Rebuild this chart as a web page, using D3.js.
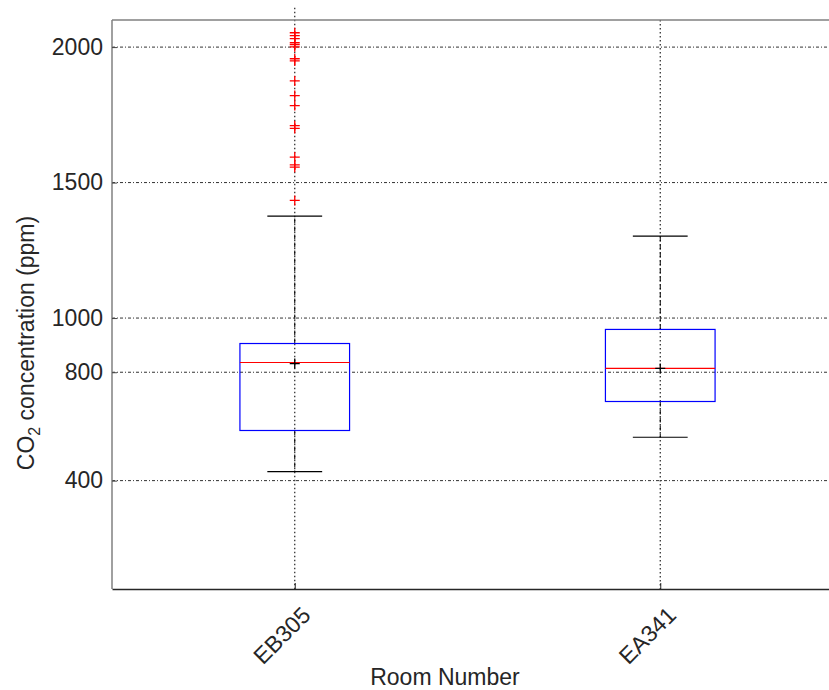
<!DOCTYPE html>
<html>
<head>
<meta charset="utf-8">
<script src="https://cdn.jsdelivr.net/npm/d3@7"></script>
<style>
  body { margin: 0; background: #fff; }
  text { font-family: "Liberation Sans", Arial, sans-serif; fill: #262626; }
</style>
</head>
<body>
<svg id="chart" width="829" height="690"></svg>
<script>
// rooms and box statistics (ppm)
var rooms = ["EB305", "EA341"];
var q1 = [585, 692];
var medians = [836, 814];
var q3 = [906, 958];
var whiskerLow = [433, 560];
var whiskerHigh = [1376, 1302];
var means = [832, 814];
var lineTop = [2145, 2100];
var outliers = [
    [2053, 2042, 2031, 2016, 2009, 2001, 1957, 1949, 1875, 1821, 1784, 1710, 1700, 1594, 1565, 1557, 1434],
    []
];
var yTicks = [400, 800, 1000, 1500, 2000];

var svg = d3.select("#chart");

var x = d3.scaleLinear().domain([0.5, 2.5]).range([112, 843]);
var y = d3.scaleLinear().domain([0, 2100]).range([589, 20]);

var boxW = 0.3, capW = 0.15;

//horizontal grid
svg.append("g")
    .selectAll("line")
    .data(yTicks)
    .enter()
    .append("line")
        .attr("x1", x(0.5)).attr("x2", x(2.5))
        .attr("y1", d => y(d)).attr("y2", d => y(d))
        .style("stroke", "#333")
        .style("stroke-width", 1)
        .style("stroke-dasharray", "3,2,1,2");

//vertical grid through each box
svg.append("g")
    .selectAll("line")
    .data(rooms)
    .enter()
    .append("line")
        .attr("x1", (d, i) => x(i + 1)).attr("x2", (d, i) => x(i + 1))
        .attr("y1", (d, i) => y(lineTop[i])).attr("y2", y(0))
        .style("stroke", "#222")
        .style("stroke-width", 1.2)
        .style("stroke-dasharray", "1.5,2.5");

//one group per room
var groups = svg.append("g")
    .selectAll("g.room")
    .data(rooms)
    .enter()
    .append("g")
        .attr("class", "room");

//whisker lines (dashed)
groups.append("line")
    .attr("x1", (d, i) => x(i + 1)).attr("x2", (d, i) => x(i + 1))
    .attr("y1", (d, i) => y(q3[i])).attr("y2", (d, i) => y(whiskerHigh[i]))
    .style("stroke", "#000").style("stroke-dasharray", "5,3");
groups.append("line")
    .attr("x1", (d, i) => x(i + 1)).attr("x2", (d, i) => x(i + 1))
    .attr("y1", (d, i) => y(q1[i])).attr("y2", (d, i) => y(whiskerLow[i]))
    .style("stroke", "#000").style("stroke-dasharray", "5,3");

//caps
groups.append("line")
    .attr("x1", (d, i) => x(i + 1 - capW / 2)).attr("x2", (d, i) => x(i + 1 + capW / 2))
    .attr("y1", (d, i) => y(whiskerHigh[i])).attr("y2", (d, i) => y(whiskerHigh[i]))
    .style("stroke", "#000").style("stroke-width", 1.2);
groups.append("line")
    .attr("x1", (d, i) => x(i + 1 - capW / 2)).attr("x2", (d, i) => x(i + 1 + capW / 2))
    .attr("y1", (d, i) => y(whiskerLow[i])).attr("y2", (d, i) => y(whiskerLow[i]))
    .style("stroke", "#000").style("stroke-width", 1.2);

//boxes
groups.append("rect")
    .attr("x", (d, i) => x(i + 1 - boxW / 2))
    .attr("width", x(1 + boxW / 2) - x(1 - boxW / 2))
    .attr("y", (d, i) => y(q3[i]))
    .attr("height", (d, i) => y(q1[i]) - y(q3[i]))
    .style("fill", "none")
    .style("stroke", "#0000ff")
    .style("stroke-width", 1.2);

//medians
groups.append("line")
    .attr("x1", (d, i) => x(i + 1 - boxW / 2)).attr("x2", (d, i) => x(i + 1 + boxW / 2))
    .attr("y1", (d, i) => y(medians[i])).attr("y2", (d, i) => y(medians[i]))
    .style("stroke", "#ff0000").style("stroke-width", 1.2);

//plus marker helper
function plus(sel, cx, cy, color) {
    sel.append("path")
        .attr("d", `M${cx - 5},${cy}H${cx + 5}M${cx},${cy - 5}V${cy + 5}`)
        .style("stroke", color)
        .style("stroke-width", 1.3)
        .style("fill", "none");
}

//means
rooms.forEach((r, i) => plus(svg, x(i + 1), y(means[i]), "#000"));

//outliers
rooms.forEach((r, i) => {
    outliers[i].forEach(v => plus(svg, x(i + 1), y(v), "#ff0000"));
});

//frame
svg.append("line").attr("x1", 112).attr("x2", 843).attr("y1", 20).attr("y2", 20)
    .style("stroke", "#808080").style("stroke-width", 1.5);
svg.append("line").attr("x1", 112).attr("x2", 112).attr("y1", 20).attr("y2", 589)
    .style("stroke", "#808080").style("stroke-width", 1.5);

//y axis
var yAxis = d3.axisLeft(y).tickValues(yTicks).tickFormat(d3.format("d"))
    .tickSizeInner(-5).tickSizeOuter(0).tickPadding(9);
var yG = svg.append("g").attr("transform", "translate(112,0)").call(yAxis);
yG.select(".domain").remove();
yG.selectAll("line").style("stroke", "#444");
yG.selectAll("text")
    .style("font-size", "23px")
    .style("font-family", "Liberation Sans, Arial, sans-serif")
    .attr("fill", "#262626");

//x axis
var xAxis = d3.axisBottom(x).tickValues([1, 2]).tickFormat((d, i) => rooms[i])
    .tickSizeInner(-6).tickSizeOuter(0);
var xG = svg.append("g").attr("transform", "translate(0,589)").call(xAxis);
xG.select(".domain").style("stroke", "#262626").style("stroke-width", 1.5);
xG.selectAll("line").style("stroke", "#262626");
xG.selectAll("text")
    .style("font-size", "23px")
    .style("font-family", "Liberation Sans, Arial, sans-serif")
    .attr("fill", "#262626")
    .attr("text-anchor", "end")
    .attr("x", 0).attr("y", 0).attr("dy", "0.35em")
    .attr("transform", "translate(11,22) rotate(-45)");

//axis titles
svg.append("text")
    .attr("x", 445).attr("y", 685)
    .style("text-anchor", "middle")
    .style("font-size", "23px")
    .text("Room Number");

var yl = svg.append("text")
    .attr("transform", "translate(34,343) rotate(-90)")
    .style("text-anchor", "middle")
    .style("font-size", "23px");
yl.append("tspan").text("CO");
yl.append("tspan").attr("dy", 6).style("font-size", "16px").text("2");
yl.append("tspan").attr("dy", -6).text(" concentration (ppm)");
</script>
</body>
</html>
